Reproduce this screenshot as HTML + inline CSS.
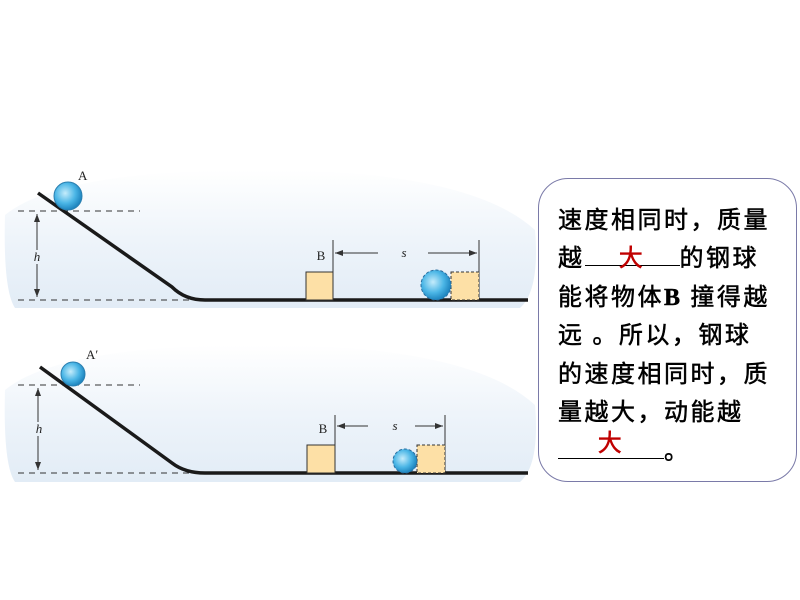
<!DOCTYPE html>
<html><head><meta charset="utf-8"><style>
html,body{margin:0;padding:0;background:#fff;width:800px;height:600px;overflow:hidden}
#box{position:absolute;left:538px;top:178px;width:259px;height:304px;border:1.5px solid #7a7aa8;border-radius:30px;box-sizing:border-box}
.t{position:absolute;left:558px;font:24px "WenQuanYi Zen Hei","Noto Sans CJK SC",sans-serif;letter-spacing:2.5px;color:#000;white-space:nowrap;line-height:26px;-webkit-text-stroke:0.5px currentColor}
.r{color:#c00000}
.u{display:inline-block;border-bottom:1.5px solid #000;height:22px;vertical-align:baseline;position:relative;text-align:center}
</style></head><body>
<svg width="800" height="600" style="position:absolute;left:0;top:0">
<defs>
<linearGradient id="bg" x1="0" y1="0" x2="0" y2="1"><stop offset="0" stop-color="#fff"/><stop offset="0.5" stop-color="#eef4fa"/><stop offset="1" stop-color="#e2ecf6"/></linearGradient>
<radialGradient id="ball" cx="0.4" cy="0.4" r="0.6"><stop offset="0" stop-color="#c5ecfb"/><stop offset="0.6" stop-color="#4bb6e6"/><stop offset="1" stop-color="#1f86c0"/></radialGradient>
<marker id="ar" markerWidth="8" markerHeight="6" refX="8" refY="3" orient="auto"><path d="M0,0L8,3L0,6z" fill="#333"/></marker>
</defs>
<path d="M5,215 Q60,170 260,170 Q470,170 535,230 Q540,290 520,308 L15,308 Q3,290 5,215 Z" fill="url(#bg)"/>
<path d="M5,390 Q60,345 260,345 Q470,345 535,405 Q540,465 520,482 L15,482 Q3,465 5,390 Z" fill="url(#bg)"/>
<g stroke="#333" stroke-width="1" stroke-dasharray="6,5" fill="none">
<line x1="18" y1="211" x2="140" y2="211"/><line x1="18" y1="300" x2="200" y2="300"/>
<line x1="18" y1="385" x2="140" y2="385"/><line x1="18" y1="473" x2="200" y2="473"/>
</g>
<g stroke="#333" stroke-width="1">
<line x1="37" y1="250" x2="37" y2="214" marker-end="url(#ar)"/><line x1="37" y1="264" x2="37" y2="297" marker-end="url(#ar)"/>
<line x1="38" y1="422" x2="38" y2="388" marker-end="url(#ar)"/><line x1="38" y1="436" x2="38" y2="470" marker-end="url(#ar)"/>
<line x1="333" y1="240" x2="333" y2="300"/><line x1="479" y1="240" x2="479" y2="300"/>
<line x1="378" y1="253" x2="335" y2="253" marker-end="url(#ar)"/><line x1="428" y1="253" x2="477" y2="253" marker-end="url(#ar)"/>
<line x1="335" y1="415" x2="335" y2="473"/><line x1="445" y1="415" x2="445" y2="473"/>
<line x1="368" y1="426" x2="337" y2="426" marker-end="url(#ar)"/><line x1="415" y1="426" x2="443" y2="426" marker-end="url(#ar)"/>
</g>
<path d="M38,193 L172,287 Q185,300 205,300 L528,300" stroke="#1a1a1a" stroke-width="3.5" fill="none"/>
<path d="M40,367 L172,463 Q185,473 205,473 L528,473" stroke="#1a1a1a" stroke-width="3.5" fill="none"/>
<rect x="306" y="272" width="27" height="28" fill="#fde0a6" stroke="#333" stroke-width="1"/>
<rect x="451" y="272" width="28" height="28" fill="#fde0a6" stroke="#333" stroke-width="1" stroke-dasharray="3,2"/>
<rect x="307" y="445" width="28" height="28" fill="#fde0a6" stroke="#333" stroke-width="1"/>
<rect x="417" y="445" width="28" height="28" fill="#fde0a6" stroke="#333" stroke-width="1" stroke-dasharray="3,2"/>
<circle cx="68" cy="196" r="14" fill="url(#ball)" stroke="#2a7fb0" stroke-width="1"/>
<circle cx="73" cy="374" r="12" fill="url(#ball)" stroke="#2a7fb0" stroke-width="1"/>
<circle cx="436" cy="285" r="15" fill="url(#ball)" stroke="#2a6fa0" stroke-width="1" stroke-dasharray="3,2"/>
<circle cx="405" cy="461" r="12" fill="url(#ball)" stroke="#2a6fa0" stroke-width="1" stroke-dasharray="3,2"/>
<g font-family="Liberation Serif,serif" font-size="13" fill="#222">
<text x="78" y="180">A</text><text x="86" y="359">A′</text>
<text x="321" y="260" text-anchor="middle">B</text><text x="323" y="433" text-anchor="middle">B</text>
<text x="404" y="257" font-style="italic" text-anchor="middle">s</text><text x="395" y="430" font-style="italic" text-anchor="middle">s</text>
<text x="37" y="261" font-style="italic" text-anchor="middle">h</text><text x="39" y="433" font-style="italic" text-anchor="middle">h</text>
</g>
</svg>
<div id="box"></div>
<div class="t" style="top:205px">速度相同时，质量</div>
<div class="t" style="top:243px">越<span class="u" style="width:95px"><span class="r">大</span></span>的钢球</div>
<div class="t" style="top:282px">能将物体<b style="font-family:'Liberation Serif',serif">B</b> 撞得越</div>
<div class="t" style="top:320px">远 。所以，钢球</div>
<div class="t" style="top:359px">的速度相同时，质</div>
<div class="t" style="top:397px">量越大，动能越</div>
<div class="t" style="top:436px"><span class="u" style="width:106px"><span class="r" style="position:relative;top:-8px">大</span></span>。</div>
</body></html>
